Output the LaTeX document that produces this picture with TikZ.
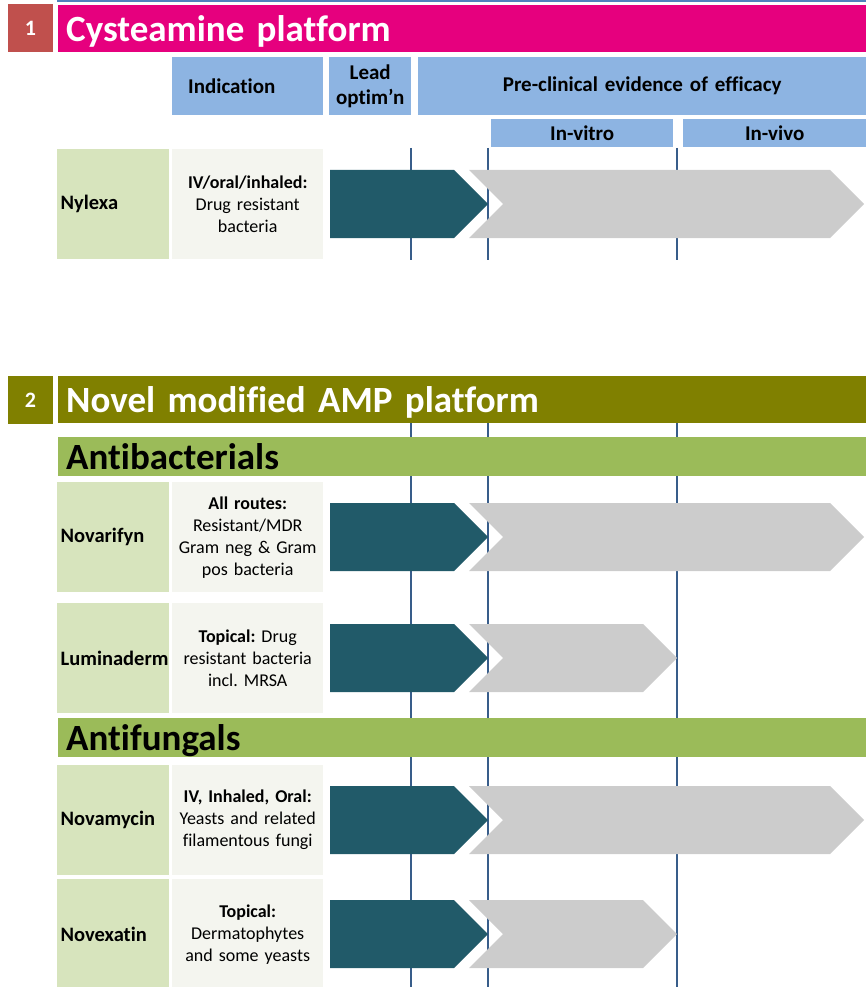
\documentclass[tikz,border=0pt]{standalone}
\usepackage{fontspec}
\setmainfont{Carlito}[Ligatures=NoCommon]
\usetikzlibrary{positioning}
\frenchspacing

\definecolor{numred}{HTML}{C0504D}
\definecolor{platpink}{HTML}{E6007E}
\definecolor{platolive}{HTML}{808000}
\definecolor{classgreen}{HTML}{9BBB59}
\definecolor{headblue}{HTML}{8DB4E2}
\definecolor{druggreen}{HTML}{D7E4BD}
\definecolor{routegray}{HTML}{F4F5EF}
\definecolor{leadteal}{HTML}{215A69}
\definecolor{stagegray}{HTML}{CCCCCC}
\definecolor{phaseblue}{HTML}{385D8A}
\definecolor{rimblue}{HTML}{4F81BD}

\tikzset{
	numbox/.style={fill=#1, text=white, font=\bfseries\fontsize{22}{26}\selectfont,
		minimum width=45pt, minimum height=48pt, inner sep=0pt},
	platbar/.style={fill=#1, text=white, anchor=north west, font=\bfseries\fontsize{37}{44}\selectfont,
		minimum height=47pt, text width=792pt, inner xsep=8pt, inner ysep=0pt, align=left,
		text height=26pt, text depth=0pt},
	classbar/.style={fill=classgreen, text=black, anchor=north west, font=\bfseries\fontsize{37}{44}\selectfont,
		minimum height=39pt, text width=792pt, inner xsep=8pt, inner ysep=0pt, align=left,
		text height=26pt, text depth=0pt},
	headbox/.style={fill=headblue, anchor=north west, font=\bfseries\fontsize{21}{25.5}\selectfont,
		inner xsep=0pt, inner ysep=0pt, align=center},
	drugbox/.style={fill=druggreen, anchor=north west, font=\bfseries\fontsize{20.5}{24}\selectfont,
		minimum height=110pt, text width=105pt, inner xsep=3.5pt, align=left},
	routebox/.style={fill=routegray, anchor=north west, font=\fontsize{18}{22}\selectfont,
		minimum height=110pt, text width=143pt, inner xsep=4pt, align=center},
	phase/.style={phaseblue, line width=1.6pt}
}

\begin{document}
\begin{tikzpicture}[x=1pt,y=-1pt]
		\useasboundingbox (0,0) rectangle (866,987);
		%phase boundaries
		\foreach \xx in {411,488,677}{
			\draw[phase] (\xx,148) -- (\xx,260);
			\draw[phase] (\xx,423) -- (\xx,987);
		}
		\fill[rimblue] (57,0) rectangle (866,2);
		%platform 1
		\node[numbox=numred] (num1) at (30.5,28) {1};
		\node[platbar=platpink] (plat1) at (58,5) {Cysteamine platform};
		%column heads
		\node[headbox, minimum width=151pt, minimum height=58pt, text width=119pt, inner xsep=16pt, align=left] (indic) at (172,57) {Indication};
		\node[headbox, minimum width=82pt, minimum height=58pt, text width=82pt] (lead) at (329,57) {Lead\\optim’n};
		\node[headbox, minimum width=448pt, minimum height=58pt, text width=448pt] (precl) at (418,57) {Pre-clinical evidence of efficacy};
		\node[headbox, minimum width=182pt, minimum height=28pt, text width=182pt] (vitro) at (491,119) {In-vitro};
		\node[headbox, minimum width=183pt, minimum height=28pt, text width=183pt] (vivo) at (683,119) {In-vivo};
		%Nylexa
		\node[drugbox] (nylexa) at (57,149) {Nylexa};
		\node[routebox] (nylexaroute) at (172,149) {\textbf{IV/oral/inhaled:}\\Drug resistant\\bacteria};
		%platform 2
		\node[numbox=platolive] (num2) at (30.5,400) {2};
		\node[platbar=platolive] (plat2) at (58,376) {Novel modified AMP platform};
		%antibacterials
		\node[classbar] (antibac) at (58,437) {Antibacterials};
		\node[drugbox] (novarifyn) at (57,482) {Novarifyn};
		\node[routebox] (novarifynroute) at (172,482) {\textbf{All routes:}\\Resistant/MDR\\Gram neg \& Gram\\pos bacteria};
		\node[drugbox] (luminaderm) at (57,603) {Luminaderm};
		\node[routebox] (luminadermroute) at (172,603) {\textbf{Topical:} Drug\\resistant bacteria\\incl. MRSA};
		%antifungals
		\node[classbar] (antifung) at (58,718) {Antifungals};
		\node[drugbox] (novamycin) at (57,765) {Novamycin};
		\node[routebox] (novamycinroute) at (172,765) {\textbf{IV, Inhaled, Oral:}\\Yeasts and related\\filamentous fungi};
		\node[drugbox] (novexatin) at (57,879) {Novexatin};
		\node[routebox] (novexatinroute) at (172,879) {\textbf{Topical:}\\Dermatophytes\\and some yeasts};
		%progress arrows, row top / end of grey stage
		\foreach \yy/\ee in {149/830,482/830,603/643,765/830,879/643}{
			\fill[leadteal] (330,\yy+21) -- (454,\yy+21) -- (488,\yy+55) -- (454,\yy+89) -- (330,\yy+89) -- cycle;
			\fill[stagegray] (469,\yy+21) -- (\ee,\yy+21) -- (\ee+34,\yy+55) -- (\ee,\yy+89) -- (469,\yy+89) -- (503,\yy+55) -- cycle;
		}
\end{tikzpicture}
\end{document}
